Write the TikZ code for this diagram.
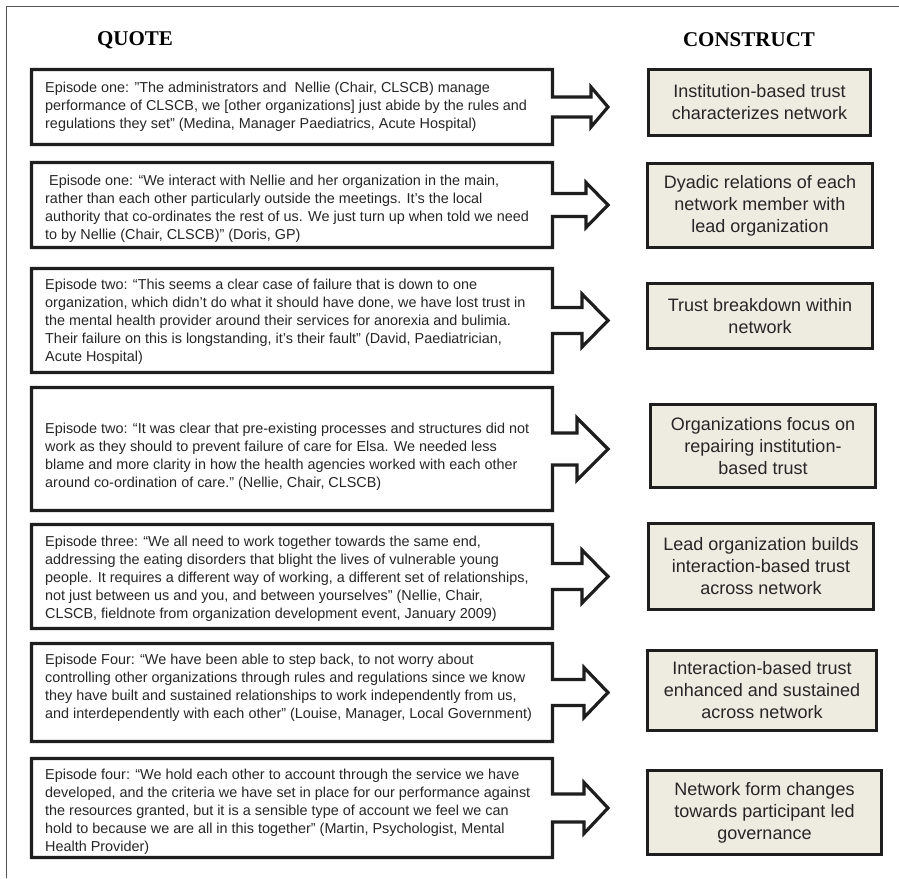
\documentclass[tikz,border=0pt]{standalone}
\usepackage{fontspec}
\setmainfont{Liberation Sans}
\newfontfamily\hdrfont{Liberation Serif}
\definecolor{inkc}{HTML}{1E1E1E}
\definecolor{txtc}{HTML}{262626}
\definecolor{beige}{HTML}{EEEBE1}
\definecolor{framec}{HTML}{555555}
\begin{document}
\begin{tikzpicture}[x=1pt,y=-1pt,
  qbox/.style={draw=inkc,line width=3.2pt,line join=miter,fill=white},
  cbox/.style={draw=inkc,line width=3.2pt,fill=beige},
  qtext/.style={anchor=north west,inner sep=0pt,align=left,text=txtc,
    font={\fontsize{14.4}{18}\selectfont}},
  ctext/.style={inner sep=0pt,align=center,text=txtc,
    font={\fontsize{18}{22}\selectfont}},
  hdr/.style={inner sep=0pt,font={\hdrfont\bfseries\fontsize{21}{24}\selectfont}}]
\useasboundingbox (0,0) rectangle (899,878);
% frame
\draw[framec,line width=1pt] (6,878) -- (6,6) -- (899,6);
% headers
\node[hdr] (hq) at (135,40) {QUOTE};
\node[hdr] (hc) at (749,40) {CONSTRUCT};
% quote boxes with arrows: \qb{top}{bottom}{center}{halfshaft}{halfhead}{shaftend}
\newcommand{\qb}[6]{%
  \draw[qbox] (31.5,#1) -- (552.5,#1) -- (552.5,#3-#4) -- (#6,#3-#4) -- (#6,#3-#5)
    -- (608,#3) -- (#6,#3+#5) -- (#6,#3+#4) -- (552.5,#3+#4) -- (552.5,#2)
    -- (31.5,#2) -- cycle;}
\qb{69.5}{144.5}{107}{10}{20}{591}
\qb{162.5}{247.5}{205}{11.5}{22.5}{586}
\qb{268.5}{372.5}{320.5}{13}{26.5}{582}
\qb{387.5}{510.5}{449}{16}{31}{577}
\qb{524.5}{628.5}{576.5}{13}{26.5}{582}
\qb{643.5}{741.5}{692.5}{13}{25}{584}
\qb{758.5}{857.5}{808}{14}{25.5}{584}
% quote texts
\node[qtext] (q1) at (45,81) {\rule{0pt}{11pt}Episode one: ”The administrators and\ \ Nellie (Chair, CLSCB) manage\\performance of CLSCB, we [other organizations] just abide by the rules and\\regulations they set” (Medina, Manager Paediatrics, Acute Hospital)};
\node[qtext] (q2) at (45,174) {\rule{0pt}{11pt}\ Episode one: “We interact with Nellie and her organization in the main,\\rather than each other particularly outside the meetings. It’s the local\\authority that co-ordinates the rest of us. We just turn up when told we need\\to by Nellie (Chair, CLSCB)” (Doris, GP)};
\node[qtext] (q3) at (45,278) {\rule{0pt}{11pt}Episode two: “This seems a clear case of failure that is down to one\\organization, which didn’t do what it should have done, we have lost trust in\\the mental health provider around their services for anorexia and bulimia.\\Their failure on this is longstanding, it’s their fault” (David, Paediatrician,\\Acute Hospital)};
\node[qtext] (q4) at (45,422) {\rule{0pt}{11pt}Episode two: “It was clear that pre-existing processes and structures did not\\work as they should to prevent failure of care for Elsa. We needed less\\blame and more clarity in how the health agencies worked with each other\\around co-ordination of care." (Nellie, Chair, CLSCB)};
\node[qtext] (q5) at (45,535) {\rule{0pt}{11pt}Episode three: “We all need to work together towards the same end,\\addressing the eating disorders that blight the lives of vulnerable young\\people. It requires a different way of working, a different set of relationships,\\not just between us and you, and between yourselves” (Nellie, Chair,\\CLSCB, fieldnote from organization development event, January 2009)};
\node[qtext] (q6) at (45,653) {\rule{0pt}{11pt}Episode Four: “We have been able to step back, to not worry about\\controlling other organizations through rules and regulations since we know\\they have built and sustained relationships to work independently from us,\\and interdependently with each other” (Louise, Manager, Local Government)};
\node[qtext] (q7) at (45,768) {\rule{0pt}{11pt}Episode four: “We hold each other to account through the service we have\\developed, and the criteria we have set in place for our performance against\\the resources granted, but it is a sensible type of account we feel we can\\hold to because we are all in this together” (Martin, Psychologist, Mental\\Health Provider)};
% construct boxes
\draw[cbox] (648.5,69.5) rectangle (870.5,135.5);
\draw[cbox] (647.5,163.5) rectangle (872.5,247.5);
\draw[cbox] (647.5,283.5) rectangle (872.5,348.5);
\draw[cbox] (650.5,404.5) rectangle (875.5,487.5);
\draw[cbox] (648.5,523.5) rectangle (873.5,609.5);
\draw[cbox] (647.5,650.5) rectangle (876.5,730.5);
\draw[cbox] (647.5,770.5) rectangle (881.5,854.5);
\node[ctext] (c1) at (759.5,102.5) {Institution-based trust\\characterizes network};
\node[ctext] (c2) at (760,205.5) {Dyadic relations of each\\network member with\\lead organization};
\node[ctext] (c3) at (760,316) {Trust breakdown within\\network};
\node[ctext] (c4) at (763,446) {Organizations focus on\\repairing institution-\\based trust};
\node[ctext] (c5) at (761,566.5) {Lead organization builds\\interaction-based trust\\across network};
\node[ctext] (c6) at (762,690.5) {Interaction-based trust\\enhanced and sustained\\across network};
\node[ctext] (c7) at (764.5,812.5) {Network form changes\\towards participant led\\governance};
\end{tikzpicture}
\end{document}
